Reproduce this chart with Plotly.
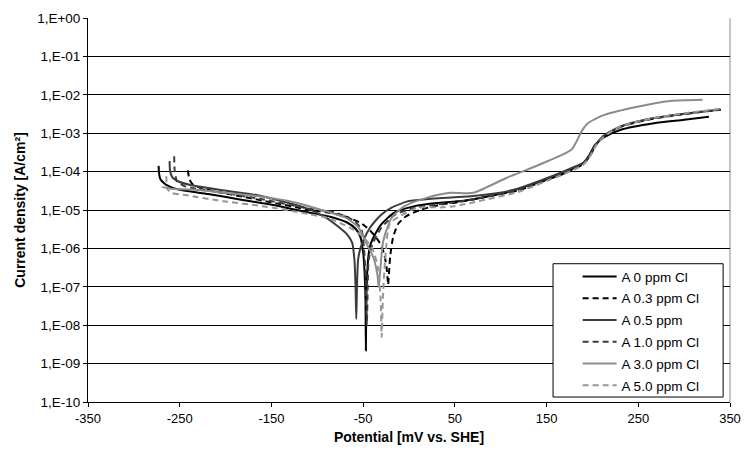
import plotly.graph_objects as go

# ---- data (potential in mV vs SHE, current density in A/cm2) ----
x_a00 = [-273, -272.5, -271, -267, -262, -251, -219, -183, -148, -112, -85, -68, -58, -53, -50, -48.5, -47.5, -47, -46.5, -45.5, -44, -42, -38, -30, -16, 6, 25, 50, 60, 85, 113, 140, 166, 180, 190, 197, 203, 213, 231, 267, 300, 327]
j_a00 = [1.41e-4, 8.9e-5, 6.3e-5, 5.0e-5, 4.2e-5, 3.4e-5, 2.6e-5, 1.86e-5, 1.35e-5, 8.9e-6, 6.6e-6, 4.8e-6, 3.2e-6, 2.0e-6, 7.9e-7, 2.5e-7, 5.0e-8, 2.2e-9, 5.0e-8, 2.5e-7, 7.1e-7, 1.26e-6, 2.1e-6, 4.3e-6, 8.5e-6, 1.26e-5, 1.48e-5, 1.66e-5, 1.74e-5, 2.24e-5, 3.2e-5, 5.2e-5, 8.3e-5, 1.26e-4, 1.66e-4, 2.8e-4, 5.0e-4, 7.9e-4, 1.23e-3, 1.82e-3, 2.24e-3, 2.7e-3]

x_a03 = [-241, -239.5, -236, -228, -210, -180, -150, -112, -80, -65.6, -51.3, -40.5, -32, -27, -24.5, -23.3, -22.7, -22, -20.5, -17.4, -12, -3, 13, 34.5, 50, 80, 120, 160, 180, 190, 197, 204, 212, 230, 260, 300, 340]
j_a03 = [1.07e-4, 6.3e-5, 4.7e-5, 3.8e-5, 3.0e-5, 2.2e-5, 1.58e-5, 1.05e-5, 7.9e-6, 6.3e-6, 4.4e-6, 2.6e-6, 1.41e-6, 7.1e-7, 3.2e-7, 1.58e-7, 1.12e-7, 2.0e-7, 6.3e-7, 1.9e-6, 4.3e-6, 6.9e-6, 1.02e-5, 1.38e-5, 1.55e-5, 2.1e-5, 3.3e-5, 7.6e-5, 1.2e-4, 1.58e-4, 2.5e-4, 5.0e-4, 8.3e-4, 1.45e-3, 2.24e-3, 3.16e-3, 4.07e-3]

x_a05 = [-261, -260.5, -258, -252, -237, -201, -166, -112, -90.6, -76, -68, -62, -59.5, -58.3, -57.5, -56.7, -55.5, -53, -49, -42.4, -37, -30, -19, -1, 10, 27, 49, 70, 113, 160, 180, 190, 197, 204, 212, 230, 260, 300, 338]
j_a05 = [1.9e-4, 1.02e-4, 7.1e-5, 5.6e-5, 4.4e-5, 3.2e-5, 2.45e-5, 1.12e-5, 6.3e-6, 3.5e-6, 2.4e-6, 1.41e-6, 5.0e-7, 1.0e-7, 1.45e-8, 1.0e-7, 5.0e-7, 1.0e-6, 1.78e-6, 3.5e-6, 5.1e-6, 7.6e-6, 1.15e-5, 1.7e-5, 1.82e-5, 2.0e-5, 2.14e-5, 2.3e-5, 3.3e-5, 8.3e-5, 1.32e-4, 1.7e-4, 2.6e-4, 5.2e-4, 8.5e-4, 1.48e-3, 2.3e-3, 3.2e-3, 4.1e-3]

x_a10 = [-256, -255.5, -253, -245, -235, -200, -160, -112, -80, -62, -52, -48.5, -47, -46, -45, -44, -40, -30, -15, 5, 30, 50, 80, 120, 160, 180, 190, 197, 204, 212, 230, 260, 300, 340]
j_a10 = [2.5e-4, 1.07e-4, 5.6e-5, 4.2e-5, 3.7e-5, 2.75e-5, 1.9e-5, 1.12e-5, 8.5e-6, 5.6e-6, 3.2e-6, 6.3e-7, 1.0e-7, 1.0e-8, 1.0e-7, 5.0e-7, 1.26e-6, 3.5e-6, 7.6e-6, 1.12e-5, 1.38e-5, 1.58e-5, 2.1e-5, 3.4e-5, 7.9e-5, 1.26e-4, 1.66e-4, 2.5e-4, 5.0e-4, 8.3e-4, 1.45e-3, 2.3e-3, 3.2e-3, 4.2e-3]

x_a30 = [-269, -260, -237, -201, -166, -123, -90.6, -69, -55, -47.7, -38.8, -34.5, -33, -31.5, -28.1, -19, -4.8, 20, 45, 70, 106, 142, 177, 183, 188, 195, 213, 249, 285, 320]
j_a30 = [4.0e-5, 3.6e-5, 3.4e-5, 2.8e-5, 2.3e-5, 1.55e-5, 9.3e-6, 6.3e-6, 3.5e-6, 1.55e-6, 5.8e-7, 2.1e-7, 1.0e-7, 2.5e-7, 1.55e-6, 6.3e-6, 1.26e-5, 2.1e-5, 2.8e-5, 2.8e-5, 6.8e-5, 1.51e-4, 3.7e-4, 6.3e-4, 1.1e-3, 1.82e-3, 3.0e-3, 4.9e-3, 6.9e-3, 7.4e-3]

x_a50 = [-264.6, -263.5, -258, -244, -203, -160, -117, -90, -76, -62, -50, -40, -34, -31, -29.8, -28.5, -26, -21, -10, 9.4, 34.5, 49, 80, 120, 160, 180, 190, 197, 204, 212, 230, 260, 300, 340]
j_a50 = [7.6e-5, 3.5e-5, 2.75e-5, 2.45e-5, 1.7e-5, 1.26e-5, 8.5e-6, 6.3e-6, 4.7e-6, 3.2e-6, 2.0e-6, 1.0e-6, 3.2e-7, 5.0e-8, 4.9e-9, 5.0e-8, 5.0e-7, 4.4e-6, 6.9e-6, 1.15e-5, 1.17e-5, 1.26e-5, 1.78e-5, 3.0e-5, 7.1e-5, 1.12e-4, 1.51e-4, 2.4e-4, 4.8e-4, 7.9e-4, 1.48e-3, 2.3e-3, 3.3e-3, 4.3e-3]

series_names = ["A 0 ppm Cl", "A 0.3 ppm Cl", "A 0.5 ppm", "A 1.0 ppm Cl", "A 3.0 ppm Cl", "A 5.0 ppm Cl"]
series_x = [x_a00, x_a03, x_a05, x_a10, x_a30, x_a50]
series_y = [j_a00, j_a03, j_a05, j_a10, j_a30, j_a50]

y_tickvals = [1e0, 1e-1, 1e-2, 1e-3, 1e-4, 1e-5, 1e-6, 1e-7, 1e-8, 1e-9, 1e-10]
y_ticktext = ["1,E+00", "1,E-01", "1,E-02", "1,E-03", "1,E-04", "1,E-05", "1,E-06", "1,E-07", "1,E-08", "1,E-09", "1,E-10"]
x_tickvals = [-350, -250, -150, -50, 50, 150, 250, 350]
x_ticktext = ["-350", "-250", "-150", "-50", "50", "150", "250", "350"]

# ---- styles ----
colors = ["#000000", "#000000", "#3c3c3c", "#3c3c3c", "#8c8c8c", "#969696"]
dashes = ["solid", "6px,4px", "solid", "6px,4px", "solid", "6px,4px"]
FONT = "Liberation Sans, Arial, sans-serif"

L, R, T, B = 88, 11, 16, 57
W, H = 752, 459
pw, ph = W - L - R, H - T - B

def px_x(p):
    return (p - L) / pw

def px_y(p):
    return (H - B - p) / ph

fig = go.Figure()
legend_layout = {}
for i, (name, xs, ys, c, d) in enumerate(zip(series_names, series_x, series_y, colors, dashes)):
    lg = "legend" if i == 0 else "legend%d" % (i + 1)
    fig.add_trace(go.Scatter(
        x=xs, y=ys, mode="lines", name=name, legend=lg,
        line=dict(color=c, width=2, dash=d, shape="spline", smoothing=0.6),
    ))
    legend_layout[lg] = dict(
        x=px_x(586), y=px_y(276 + 21.9 * i), xanchor="left", yanchor="middle",
        bgcolor="rgba(0,0,0,0)", borderwidth=0, itemwidth=34,
        font=dict(family=FONT, size=13.5, color="black"),
    )

fig.update_layout(
    width=W, height=H,
    margin=dict(l=L, r=R, t=T, b=B),
    paper_bgcolor="white", plot_bgcolor="white",
    font=dict(family=FONT, size=14, color="black"),
    showlegend=True,
    shapes=[
        dict(type="rect", xref="paper", yref="paper",
             x0=px_x(561), x1=px_x(734), y0=px_y(397), y1=px_y(263),
             line=dict(color="black", width=1), fillcolor="white", layer="above"),
        dict(type="line", xref="paper", yref="paper", x0=1, x1=1, y0=0, y1=1,
             line=dict(color="#8c8c8c", width=1), layer="below"),
    ],
    **legend_layout,
)

fig.update_xaxes(
    range=[-350, 350], tickmode="array", tickvals=x_tickvals, ticktext=x_ticktext,
    showgrid=False, zeroline=False,
    showline=True, linecolor="black", linewidth=1,
    ticks="outside", ticklen=4, tickcolor="black",
    tickfont=dict(family=FONT, size=13, color="black"),
    title=dict(text="<b>Potential [mV vs. SHE]</b>", font=dict(family=FONT, size=14, color="black"), standoff=7),
)
fig.update_yaxes(
    type="log", range=[-10, 0], tickmode="array",
    tickvals=y_tickvals, ticktext=y_ticktext,
    showgrid=True, gridcolor="black", gridwidth=1,
    zeroline=False,
    showline=True, linecolor="black", linewidth=1,
    ticks="outside", ticklen=4, tickcolor="black",
    tickfont=dict(family=FONT, size=13.5, color="black"),
    title=dict(text="<b>Current density [A/cm²]</b>", font=dict(family=FONT, size=14, color="black"), standoff=8),
)

fig.write_html("out.html")
